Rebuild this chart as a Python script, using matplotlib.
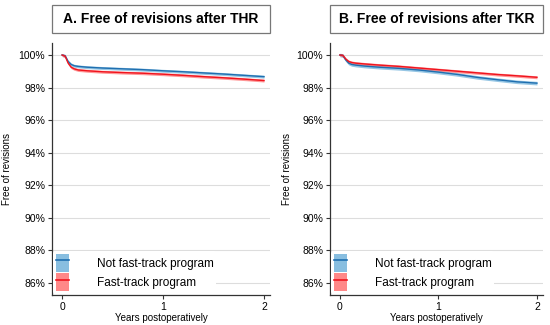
import matplotlib
matplotlib.use("Agg")
import matplotlib.pyplot as plt
from matplotlib.patches import Patch, Rectangle
from matplotlib.lines import Line2D

plt.rcParams["font.family"] = ["Liberation Sans", "DejaVu Sans"]

# years after surgery
t = [0, 0.03, 0.06, 0.09, 0.12, 0.16, 0.25, 0.4, 0.6, 0.8, 1.0, 1.2, 1.4, 1.6, 1.8, 2.0]

# THR, survival in %
thr_not = [100, 99.95, 99.6, 99.42, 99.34, 99.3, 99.25, 99.2, 99.15, 99.1, 99.03, 98.97, 98.9, 98.83, 98.75, 98.67]
thr_fast = [100, 99.93, 99.5, 99.25, 99.15, 99.08, 99.03, 98.97, 98.92, 98.88, 98.82, 98.75, 98.67, 98.6, 98.52, 98.43]
thr_not_ci = 0.09
thr_fast_ci = 0.09

# TKR, survival in %
tkr_not = [100, 99.97, 99.7, 99.5, 99.42, 99.38, 99.32, 99.25, 99.18, 99.08, 98.95, 98.8, 98.62, 98.48, 98.35, 98.27]
tkr_fast = [100, 99.98, 99.75, 99.6, 99.54, 99.5, 99.45, 99.38, 99.3, 99.2, 99.1, 99.0, 98.9, 98.8, 98.72, 98.63]
tkr_not_ci = 0.11
tkr_fast_ci = 0.09

titles = ["A. Free of revisions after THR", "B. Free of revisions after TKR"]
labels = ["Not fast-track program", "Fast-track program"]
yticks = [86, 88, 90, 92, 94, 96, 98, 100]
xticks = [0, 1, 2]

blue = "#1f6fb0"
blue_band = "#6aaed9"
red = "#f0141e"
red_band = "#ff6a6a"

fig = plt.figure(figsize=(5.5, 3.25), dpi=100)
boxes = [[0.0945, 0.0923, 0.3965, 0.776], [0.600, 0.0923, 0.387, 0.776]]
ylab_x = [-0.183, -0.178]
panels = [(thr_not, thr_fast, thr_not_ci, thr_fast_ci), (tkr_not, tkr_fast, tkr_not_ci, tkr_fast_ci)]

for pos, lx, (ynot, yfast, cnot, cfast), title in zip(boxes, ylab_x, panels, titles):
    ax = fig.add_axes(pos)
    ax.fill_between(t, [v - cnot for v in ynot], [v + cnot for v in ynot], color=blue_band, alpha=0.7, lw=0)
    ax.fill_between(t, [v - cfast for v in yfast], [v + cfast for v in yfast], color=red_band, alpha=0.7, lw=0)
    ax.plot(t, ynot, color=blue, lw=1.0)
    ax.plot(t, yfast, color=red, lw=1.0)

    ax.set_xlim(-0.1, 2.06)
    ax.set_ylim(85.25, 100.75)
    ax.set_yticks(yticks)
    ax.set_yticklabels([f"{v}%" for v in yticks])
    ax.set_xticks(xticks)
    ax.tick_params(labelsize=7.5, length=3, width=0.8, color="#333333", pad=2)
    ax.grid(axis="y", color="#dddddd", lw=0.8)
    ax.set_axisbelow(True)
    for s in ["top", "right"]:
        ax.spines[s].set_visible(False)
    for s in ["left", "bottom"]:
        ax.spines[s].set_color("#333333")
        ax.spines[s].set_linewidth(0.9)
    ax.set_xlabel("Years postoperatively", fontsize=7, labelpad=1)
    ax.set_ylabel("Free of revisions", fontsize=7)
    ax.yaxis.set_label_coords(lx, 0.5)

    handles = [
        (Patch(facecolor=blue_band, alpha=0.8), Line2D([], [], color=blue, lw=1.2)),
        (Patch(facecolor=red_band, alpha=0.8), Line2D([], [], color=red, lw=1.2)),
    ]
    leg = ax.legend(handles, labels, loc="lower left", fontsize=8.5, frameon=True,
                    facecolor="white", edgecolor="none", framealpha=1,
                    handlelength=1.1, handleheight=2.0, handletextpad=2.4,
                    labelspacing=0.1, borderaxespad=0.1, borderpad=0.2)

    # title box above each panel
    x0, w = pos[0], pos[2]
    fig.patches.append(Rectangle((x0, 0.898), w, 0.087, transform=fig.transFigure,
                                 facecolor="white", edgecolor="#777777", lw=0.9))
    fig.text(x0 + w / 2, 0.9415, title, ha="center", va="center",
             fontsize=10, fontweight="bold")

fig.savefig("out.png", dpi=100)
